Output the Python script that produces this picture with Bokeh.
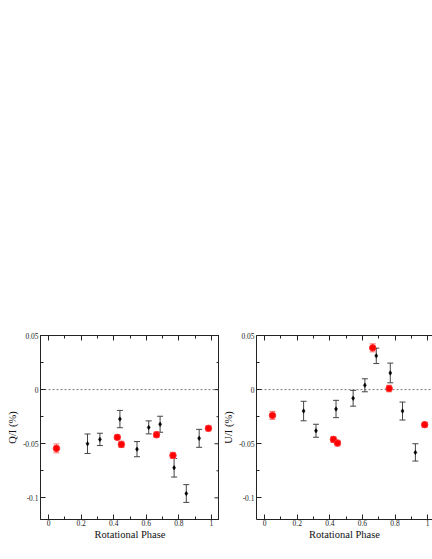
from bokeh.plotting import figure
from bokeh.models import (ColumnDataSource, Whisker, TeeHead, FixedTicker, LinearAxis,
                          Span, Range1d, CustomJSTickFormatter)
from bokeh.layouts import row
from bokeh.embed import file_html
from bokeh.resources import INLINE

# ---------------- data ----------------
phase_black = [0.239, 0.315, 0.438, 0.543, 0.615, 0.685, 0.771, 0.846, 0.925]
q_black = [-0.050, -0.046, -0.0272, -0.055, -0.0349, -0.032, -0.0722, -0.096, -0.045]
q_black_err = [0.009, 0.0057, 0.008, 0.007, 0.006, 0.0074, 0.0086, 0.0082, 0.0083]
u_black = [-0.0198, -0.038, -0.0179, -0.008, 0.004, 0.0312, 0.0154, -0.0198, -0.058]
u_black_err = [0.009, 0.006, 0.008, 0.0073, 0.006, 0.0071, 0.0091, 0.0083, 0.008]

phase_red = [0.048, 0.422, 0.447, 0.663, 0.764, 0.982]
q_red = [-0.0543, -0.0441, -0.0506, -0.0417, -0.0608, -0.0358]
q_red_err = [0.0041, 0.002, 0.0029, 0.0026, 0.0028, 0.0023]
u_red = [-0.0238, -0.046, -0.0494, 0.0386, 0.001, -0.0324]
u_red_err = [0.0037, 0.0026, 0.0026, 0.0037, 0.003, 0.0022]

x_major = [0, 0.2, 0.4, 0.6, 0.8, 1.0]
x_labels = ["0", "0.2", "0.4", "0.6", "0.8", "1"]
x_minor = [0.1, 0.3, 0.5, 0.7, 0.9]
y_major = [0.05, 0.0, -0.05, -0.1]
y_labels = ["0.05", "0", "-0.05", "-0.1"]
y_minor = [0.025, -0.025, -0.075]

FONT = "Liberation Serif"
AXIS_COLOR = "#222222"
MAJOR_LEN = 5
MINOR_LEN = 3


def style_axis(ax, labels=True):
    ax.axis_line_color = AXIS_COLOR
    ax.axis_line_width = 1
    ax.major_tick_line_color = AXIS_COLOR
    ax.minor_tick_line_color = AXIS_COLOR
    ax.major_tick_in = MAJOR_LEN
    ax.major_tick_out = 0
    ax.minor_tick_in = MINOR_LEN
    ax.minor_tick_out = 0
    ax.major_label_text_font = FONT
    ax.major_label_text_font_size = "7.5px"
    ax.major_label_text_color = AXIS_COLOR
    ax.axis_label_text_font = FONT
    ax.axis_label_text_font_size = "10.5px"
    ax.axis_label_text_font_style = "normal"
    ax.axis_label_text_color = "#111111"
    ax.major_label_standoff = 2
    ax.axis_label_standoff = 2
    if not labels:
        ax.formatter = CustomJSTickFormatter(code="return ''")
        ax.major_label_standoff = 0
        ax.major_label_text_font_size = "0px"


def make_panel(ylabel, yb, yb_err, yr, yr_err, x_start, x_end, frame_w,
               min_left, min_right, right_border):
    p = figure(frame_width=frame_w, frame_height=184,
               x_range=Range1d(x_start, x_end), y_range=Range1d(-0.12, 0.05),
               output_backend="svg", toolbar_location=None,
               min_border_left=min_left, min_border_right=min_right,
               min_border_top=335, min_border_bottom=20)
    p.outline_line_color = AXIS_COLOR if right_border else None
    p.outline_line_width = 1
    p.xgrid.visible = False
    p.ygrid.visible = False
    p.background_fill_color = "white"
    p.border_fill_color = "white"

    xa = p.xaxis[0]
    xa.ticker = FixedTicker(ticks=x_major, minor_ticks=x_minor)
    xa.major_label_overrides = dict(zip(x_major, x_labels))
    xa.axis_label = "Rotational Phase"
    style_axis(xa)
    xa.major_label_standoff = 0
    xa.axis_label_standoff = 0

    ya = p.yaxis[0]
    ya.ticker = FixedTicker(ticks=y_major, minor_ticks=y_minor)
    ya.major_label_overrides = dict(zip(y_major, y_labels))
    ya.axis_label = ylabel
    style_axis(ya)

    top = LinearAxis(ticker=FixedTicker(ticks=x_major, minor_ticks=x_minor))
    style_axis(top, labels=False)
    p.add_layout(top, "above")

    if right_border:
        # inward ticks on the right frame edge, placed at the y tick values
        px = (x_end - x_start) / frame_w
        p.segment(x0=[x_end] * len(y_major), x1=[x_end - MAJOR_LEN * px] * len(y_major),
                  y0=y_major, y1=y_major, line_color=AXIS_COLOR, line_width=1)
        p.segment(x0=[x_end] * len(y_minor), x1=[x_end - MINOR_LEN * px] * len(y_minor),
                  y0=y_minor, y1=y_minor, line_color=AXIS_COLOR, line_width=1)

    p.add_layout(Span(location=0, dimension="width", line_color="#7a7a7a",
                      line_dash="2 2", line_width=1, level="underlay"))

    src_b = ColumnDataSource(dict(x=phase_black, y=yb,
                                  lo=[v - e for v, e in zip(yb, yb_err)],
                                  hi=[v + e for v, e in zip(yb, yb_err)]))
    src_r = ColumnDataSource(dict(x=phase_red, y=yr,
                                  lo=[v - e for v, e in zip(yr, yr_err)],
                                  hi=[v + e for v, e in zip(yr, yr_err)]))

    wb = Whisker(source=src_b, base="x", lower="lo", upper="hi", dimension="height",
                 line_color="#444444", line_width=1, level="underlay",
                 upper_head=TeeHead(size=6, line_color="#444444", line_width=1),
                 lower_head=TeeHead(size=6, line_color="#444444", line_width=1))
    wr = Whisker(source=src_r, base="x", lower="lo", upper="hi", dimension="height",
                 line_color="#ff7070", line_width=1, level="underlay",
                 upper_head=TeeHead(size=6, line_color="#ff7070", line_width=1),
                 lower_head=TeeHead(size=6, line_color="#ff7070", line_width=1))
    p.add_layout(wb)
    p.add_layout(wr)

    p.scatter("x", "y", source=src_r, size=6.5, marker="circle",
              fill_color="#ff0000", line_color="#ff3030", line_width=1)
    p.scatter("x", "y", source=src_b, size=4.5, marker="diamond",
              fill_color="black", line_color="black", line_width=0.5)
    return p


p1 = make_panel("Q/I (%)", q_black, q_black_err, q_red, q_red_err,
                -0.05, 1.05, 179, 40, 0, True)
p2 = make_panel("U/I (%)", u_black, u_black_err, u_red, u_red_err,
                -0.05, 1.03, 176, 36, 0, False)

layout = row(p1, p2)
open("out.html", "w").write(file_html(layout, INLINE))
